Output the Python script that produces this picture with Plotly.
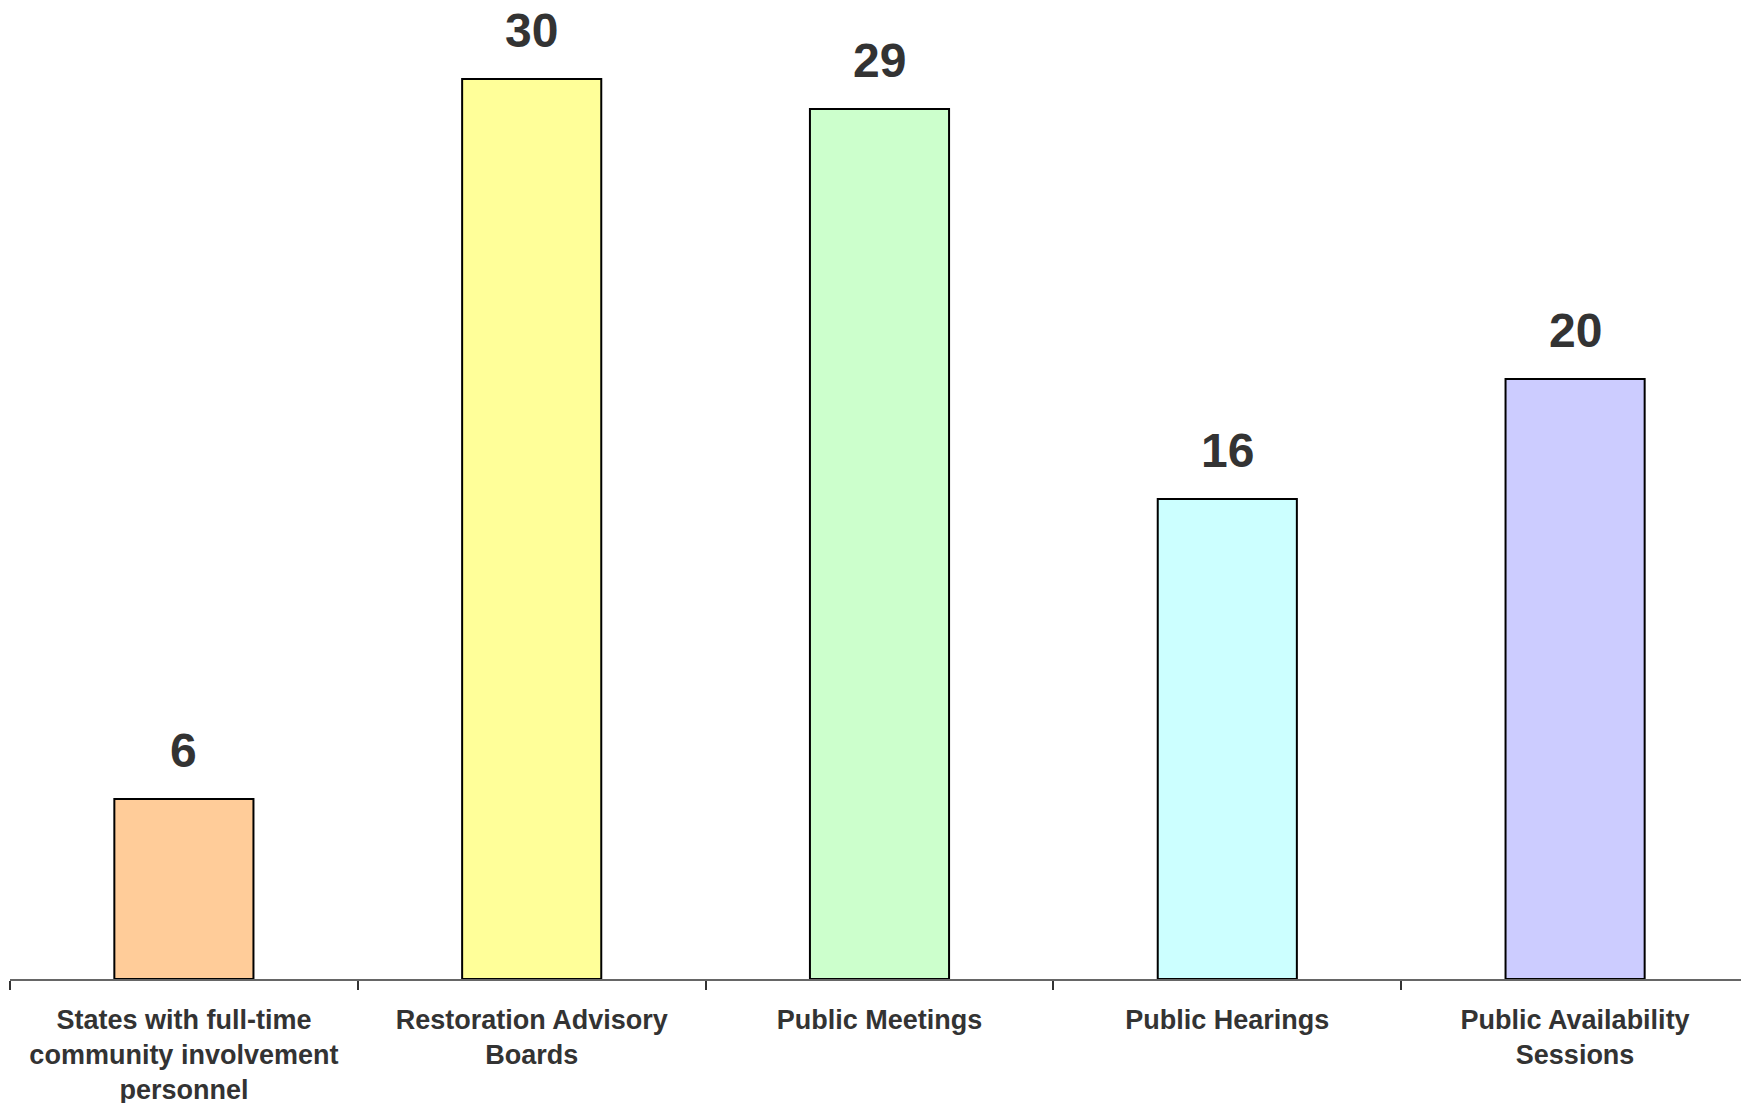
import plotly.graph_objects as go

categories = [
    "States with full-time<br>community involvement<br>personnel",
    "Restoration Advisory<br>Boards",
    "Public Meetings",
    "Public Hearings",
    "Public Availability<br>Sessions",
]
values = [6, 30, 29, 16, 20]
colors = ["#FFCC99", "#FFFF99", "#CCFFCC", "#CCFFFF", "#CCCCFF"]

FONT = "Liberation Sans, Arial, sans-serif"
TXT = "#333333"

fig = go.Figure()
fig.add_trace(go.Bar(
    x=categories, y=values,
    marker=dict(color=colors, line=dict(color="#000000", width=2)),
    width=0.4, hoverinfo="skip",
))

for c, v in zip(categories, values):
    fig.add_annotation(
        x=c, y=v, text=str(v), showarrow=False, yanchor="bottom", yshift=20,
        font=dict(family=FONT, size=48, color=TXT, weight="bold"),
    )

fig.update_layout(
    width=1749, height=1103,
    margin=dict(l=2, r=8, t=0, b=132),
    paper_bgcolor="white", plot_bgcolor="white",
    showlegend=False,
    xaxis=dict(
        showline=True, linecolor="#666666", linewidth=1.5,
        ticks="outside", tickson="boundaries", ticklen=9, tickcolor="#333333", tickwidth=1.5,
        tickfont=dict(family=FONT, size=27, color=TXT, weight="bold"),
        ticklabelstandoff=16,
        showgrid=False, zeroline=False, automargin=False,
    ),
    yaxis=dict(
        range=[0, 971 / 30], visible=False, showgrid=False, zeroline=False,
    ),
)

fig.write_html("out.html")
